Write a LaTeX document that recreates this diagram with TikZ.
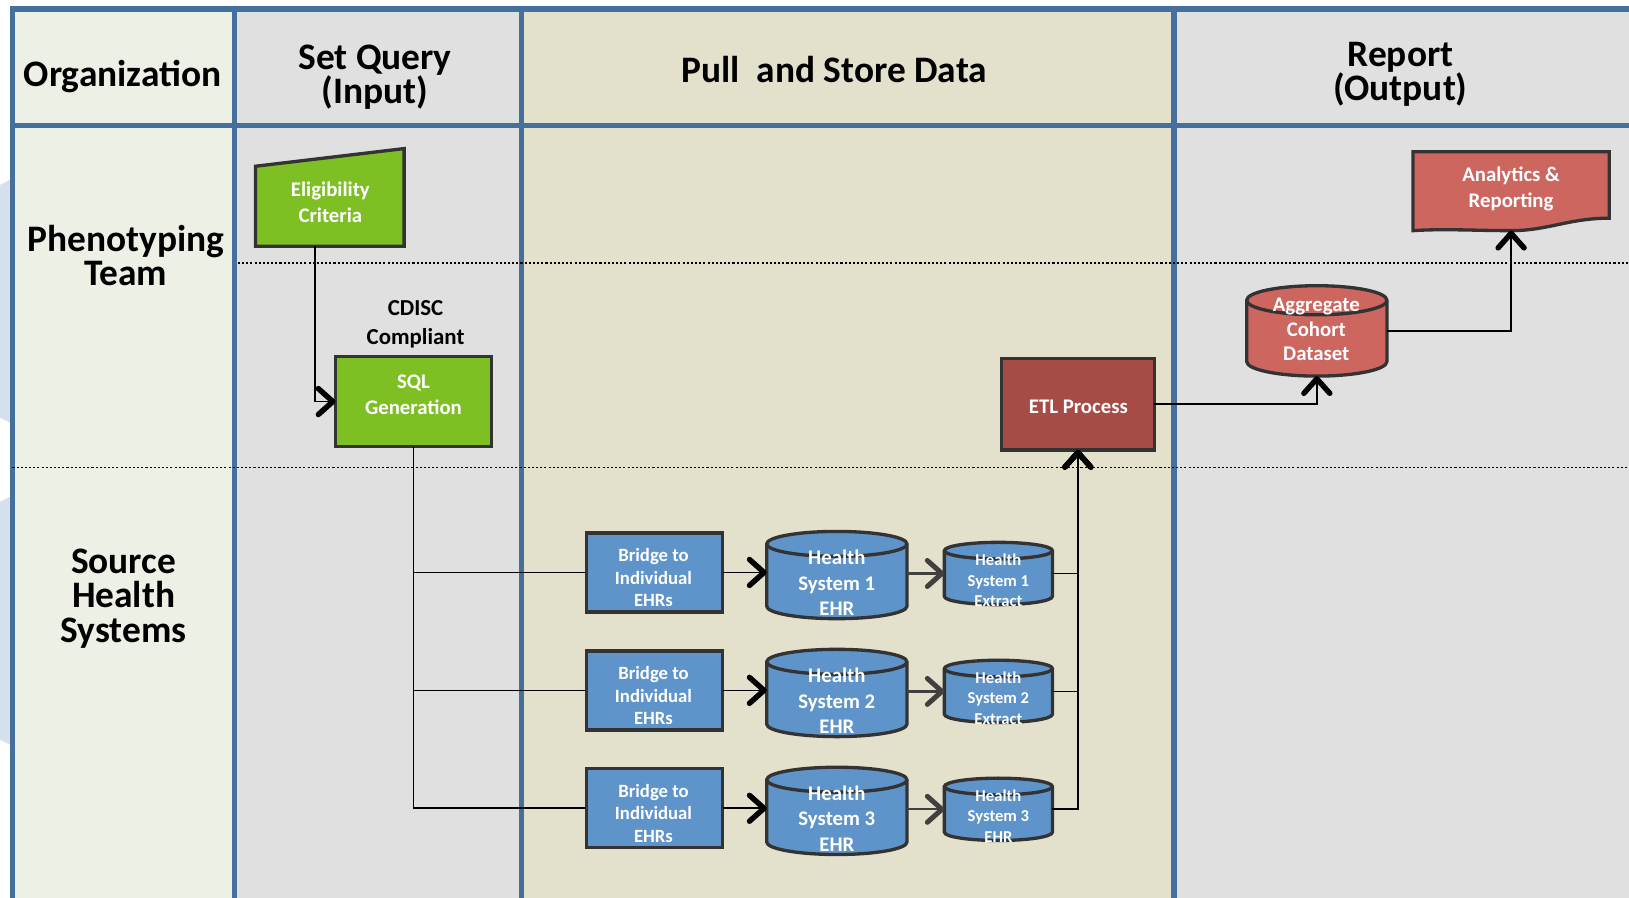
\documentclass[tikz,border=0pt]{standalone}
\usepackage{fontspec}
\setmainfont{Carlito}
\usetikzlibrary{calc,arrows.meta}
\definecolor{colline}{HTML}{456F9C}
\definecolor{bgorg}{HTML}{EDF0E4}
\definecolor{bggrey}{HTML}{E0E0E0}
\definecolor{bgbeige}{HTML}{E3E0CC}
\definecolor{blobc}{HTML}{D5E0EC}
\definecolor{edgec}{HTML}{333333}
\definecolor{greenc}{HTML}{7EBF24}
\definecolor{bluec}{HTML}{5E94C9}
\definecolor{etlc}{HTML}{A64B45}
\definecolor{redc}{HTML}{CE6660}
\definecolor{arrgrey}{HTML}{404040}
\tikzset{
  lane/.style={draw=colline, line width=2.6pt},
  sepline/.style={draw=black, line width=0.7pt, dash pattern=on 1pt off 1pt},
  hdr/.style={font={\bfseries\fontsize{18}{16.5}\selectfont\lineskiplimit=-20pt}, align=center, inner sep=0pt},
  shapeedge/.style={draw=edgec, line width=1.6pt},
  ghost/.style={inner sep=0pt, outer sep=0pt},
  box/.style={shapeedge, ghost, text=white, align=center, font=\bfseries\fontsize{10}{12.5}\selectfont},
  wtext/.style={text=white, align=center, inner sep=0pt, font={\bfseries\fontsize{10}{12.5}\selectfont\lineskiplimit=-20pt}},
  btext/.style={wtext, font={\bfseries\fontsize{9}{10.75}\selectfont\lineskiplimit=-20pt}},
  ctext/.style={wtext, font={\bfseries\fontsize{10}{12.25}\selectfont\lineskiplimit=-20pt}},
  xtext/.style={wtext, font={\bfseries\fontsize{8}{10}\selectfont\lineskiplimit=-20pt}},
  conn/.style={draw=black, line width=0.8pt},
  arr/.style={conn, -{Straight Barb[length=7pt,width=12.5pt,line width=2.6pt,round]}},
  garr/.style={draw=arrgrey, line width=1.1pt, -{Straight Barb[length=7pt,width=12.5pt,line width=2.4pt,round]}},
}
% cylinder: name, cx, cy (downward px), width, height, ry, fill
\newcommand{\dbcyl}[7]{%
  \node[ghost, minimum width={#4*0.5pt}, minimum height={#5*0.5pt}] (#1) at (#2,-#3) {};
  \filldraw[shapeedge, fill=#7] ($(#1.north west)+(0,-#6)$) -- ($(#1.south west)+(0,#6)$)
    arc[start angle=180, end angle=360, x radius=#4/2, y radius=#6]
    -- ($(#1.north east)+(0,-#6)$)
    arc[start angle=0, end angle=180, x radius=#4/2, y radius=#6] -- cycle;
  \draw[shapeedge] ($(#1.north west)+(0,-#6)$) arc[start angle=180, end angle=360, x radius=#4/2, y radius=#6];
}
\begin{document}
\begin{tikzpicture}[x=0.5pt,y=0.5pt]
\useasboundingbox (0,0) rectangle (1568,-864);
% backgrounds
\fill[bgorg] (12,-8) rectangle (226,-864);
\fill[bggrey] (226,-8) rectangle (502,-864);
\fill[bgbeige] (502,-8) rectangle (1130,-864);
\fill[bggrey] (1130,-8) rectangle (1568,-864);
\fill[blobc] (0,-178) -- (12,-172) -- (12,-408) -- (0,-402) -- cycle;
\fill[blobc] (0,-483) -- (12,-477) -- (12,-718) -- (0,-712) -- cycle;
% lanes
\draw[lane] (1568,-8.5) -- (12,-8.5) -- (12,-864);
\draw[lane] (12,-121) -- (1568,-121);
\draw[lane] (226,-8.5) -- (226,-864);
\draw[lane] (502,-8.5) -- (502,-864);
\draw[lane] (1130,-8.5) -- (1130,-864);
\draw[sepline] (229,-253) -- (1568,-253);
\draw[sepline] (12,-450) -- (1568,-450);
% headers
\node[hdr] (horg) at (118,-74) {Organization};
\node[hdr] (hset) at (361,-74.5) {Set Query\\(Input)};
\node[hdr] (hpull) at (803,-67) {Pull\ \ and Store Data};
\node[hdr] (hrep) at (1348,-71.5) {Report\\(Output)};
\node[hdr] (lphen) at (121,-246) {Phenotyping\\Team};
\node[hdr] (lsrc) at (119,-576) {Source\\Health\\Systems};
% eligibility criteria (manual input)
\node[ghost, minimum width=71.5pt, minimum height=38.5pt] (elig) at (317.5,-198.5) {};
\filldraw[shapeedge, fill=greenc] (elig.south west) -- (elig.south east) -- ($(elig.north east)+(0,17)$) -- (elig.north west) -- cycle;
\node[wtext] (eligt) at (318,-195) {Eligibility\\Criteria};
% SQL generation
\node[box, fill=greenc, minimum width=75pt, minimum height=43.5pt] (sql) at (398,-386.5) {};
\node[wtext] (sqlt) at (398,-380) {SQL\\Generation};
\node[align=center, inner sep=0pt, font={\bfseries\fontsize{11}{14}\selectfont}] (cdisc) at (400,-312) {CDISC\\Compliant};
% ETL
\node[box, fill=etlc, minimum width=73.5pt, minimum height=44pt] (etl) at (1037.5,-389) {};
\node[wtext] (etlt) at (1038,-391.5) {ETL Process};
% aggregate
\dbcyl{agg}{1267.5}{318.5}{135}{87}{14}{redc}
\node[wtext, font={\bfseries\fontsize{10}{12}\selectfont\lineskiplimit=-20pt}] (aggt) at (1267,-317) {Aggregate\\Cohort\\Dataset};
% analytics (document)
\node[ghost, minimum width=94.5pt, minimum height=38pt] (ana) at (1454.5,-184) {};
\filldraw[shapeedge, fill=redc] (ana.north west) -- (ana.north east) -- (1549,-210)
  .. controls (1510,-210) and (1490,-222) .. (ana.south)
  .. controls (1420,-222) and (1390,-220) .. (ana.south west) -- cycle;
\node[wtext] (anat) at (1454.5,-181.5) {Analytics \&\\Reporting};
% rows
\node[box, fill=bluec, minimum width=65.5pt, minimum height=38pt] (br1) at (630,-551) {};
\node[box, fill=bluec, minimum width=65.5pt, minimum height=38pt] (br2) at (630,-664.5) {};
\node[box, fill=bluec, minimum width=65.5pt, minimum height=38pt] (br3) at (630,-778) {};
\node[btext] (br1t) at (629,-556) {Bridge to\\Individual\\EHRs};
\node[btext] (br2t) at (629,-669.5) {Bridge to\\Individual\\EHRs};
\node[btext] (br3t) at (629,-783) {Bridge to\\Individual\\EHRs};
\dbcyl{ehr1}{805.5}{553.5}{135}{84}{12}{bluec}
\dbcyl{ehr2}{805.5}{667}{135}{84}{12}{bluec}
\dbcyl{ehr3}{805.5}{780.5}{135}{84}{12}{bluec}
\node[ctext] (ehr1t) at (805.5,-561) {Health\\System 1\\EHR};
\node[ctext] (ehr2t) at (805.5,-674.5) {Health\\System 2\\EHR};
\node[ctext] (ehr3t) at (805.5,-788) {Health\\System 3\\EHR};
\dbcyl{ext1}{961}{552}{104}{60}{8}{bluec}
\dbcyl{ext2}{961}{665.5}{104}{60}{8}{bluec}
\dbcyl{ext3}{961}{779}{104}{60}{8}{bluec}
\node[xtext] (ext1t) at (961,-558.5) {Health\\System 1\\Extract};
\node[xtext] (ext2t) at (961,-672) {Health\\System 2\\Extract};
\node[xtext] (ext3t) at (961,-785.5) {Health\\System 3\\EHR};
% connectors
\draw[arr] ($(elig.south)+(-14.5,0)$) |- (sql.west);
\foreach \i in {1,2,3}{
  \draw[conn] (sql.south) |- (br\i.west);
  \draw[arr] (br\i.east) -- (br\i.east -| ehr\i.west);
  \draw[garr] (ext\i.west -| ehr\i.east) -- (ext\i.west);
  \draw[arr] (ext\i.east) -| (etl.south);
}
\draw[arr] (etl.east) -| (agg.south);
\draw[arr] (agg.east) -| (ana.south);
\end{tikzpicture}
\end{document}
